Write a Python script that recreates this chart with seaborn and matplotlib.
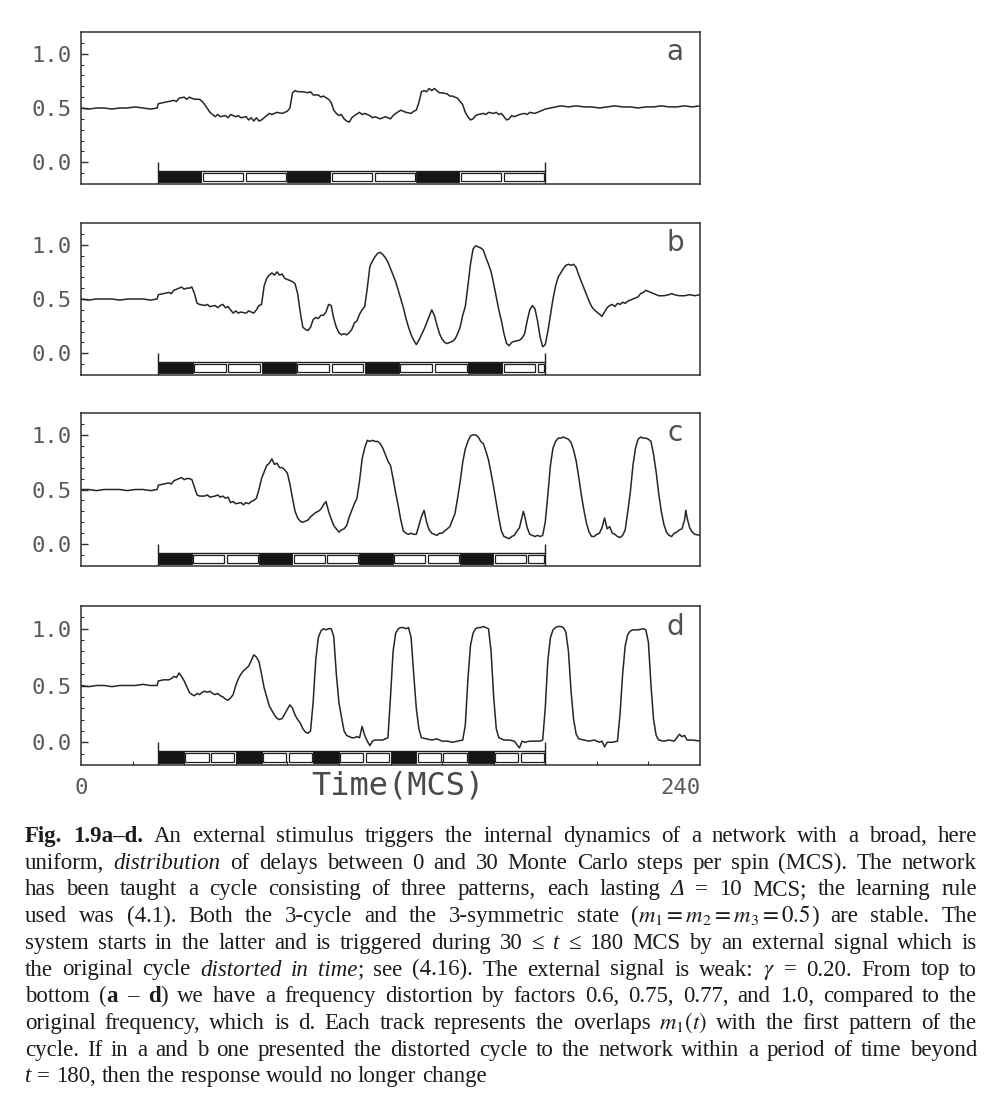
import numpy as np
import pandas as pd
import matplotlib
matplotlib.use("Agg")
import matplotlib.pyplot as plt
import seaborn as sns
from matplotlib.patches import Rectangle
from matplotlib.ticker import FixedLocator

# ---------------- data ----------------
panel_labels = ["a", "b", "c", "d"]
distortion_factors = [0.6, 0.75, 0.77, 1.0]   # frequency distortion of the stimulus
pattern_duration = 10                         # Delta (MCS)
stim_start, stim_end = 30, 180                # stimulus window (MCS)
x_range = [0, 240]
y_ticks = [0.0, 0.5, 1.0]
y_ticklabels = ["0.0", "0.5", "1.0"]
x_ticklabels = ["0", "240"]
x_label = "Time(MCS)"

trace_a = [(0,0.50),(3,0.49),(6,0.50),(9,0.50),(12,0.49),(15,0.50),(18,0.50),(21,0.51),(24,0.50),(27,0.49),(29.5,0.50),
    (30,0.54),(32,0.55),(34,0.56),(36,0.57),(37,0.56),(38,0.59),(40,0.60),(41,0.58),(42,0.60),(44,0.58),(46,0.58),(47,0.56),
    (48,0.53),(50,0.46),(52,0.42),(53,0.44),(54,0.42),(56,0.43),(57,0.41),(58,0.44),(60,0.42),(61,0.43),(62,0.41),(64,0.42),
    (65,0.39),(66,0.41),(67,0.38),(68,0.41),(69,0.38),(70,0.39),(72,0.43),(73,0.45),(74,0.44),(76,0.46),(78,0.45),(80,0.47),
    (81,0.50),(82,0.64),(83,0.66),(84,0.65),(86,0.65),(88,0.64),(89,0.65),(90,0.62),(92,0.62),(93,0.60),(94,0.61),(96,0.58),
    (97,0.55),(98,0.48),(99,0.45),(100,0.43),(101,0.44),(102,0.40),(103,0.38),(104,0.37),(105,0.41),(106,0.43),(108,0.46),
    (109,0.44),(110,0.45),(112,0.43),(113,0.41),(114,0.42),(116,0.40),(117,0.41),(118,0.42),(120,0.40),(121,0.43),(122,0.45),
    (124,0.48),(125,0.47),(126,0.46),(128,0.45),(129,0.47),(130,0.48),(131,0.55),(132,0.65),(133,0.66),(134,0.65),(135,0.68),
    (136,0.66),(137,0.68),(138,0.66),(139,0.64),(140,0.64),(142,0.63),(143,0.61),(144,0.61),(146,0.59),(147,0.56),(148,0.53),
    (149,0.46),(150,0.42),(151,0.39),(152,0.40),(153,0.43),(154,0.44),(156,0.45),(157,0.44),(158,0.46),(160,0.45),(161,0.46),
    (162,0.44),(163,0.45),(164,0.42),(165,0.39),(166,0.40),(167,0.43),(168,0.42),(170,0.44),(172,0.45),(173,0.44),(174,0.46),
    (176,0.45),(178,0.47),(180,0.49),(182,0.50),(184,0.51),(186,0.52),(189,0.51),(192,0.52),(195,0.51),(198,0.51),(201,0.50),
    (204,0.51),(207,0.52),(210,0.51),(213,0.51),(216,0.50),(219,0.51),(222,0.51),(225,0.52),(228,0.51),(231,0.51),(234,0.52),
    (237,0.51),(240,0.52)]

trace_b = [(0,0.50),(3,0.49),(6,0.50),(9,0.50),(12,0.50),(15,0.49),(18,0.50),(21,0.50),(24,0.50),(27,0.49),(29.5,0.50),
    (30,0.54),(32,0.55),(34,0.56),(35,0.55),(36,0.58),(38,0.60),(39,0.61),(40,0.59),(41,0.60),(42,0.60),(43,0.61),(44,0.55),
    (45,0.46),(46,0.45),(48,0.44),(49,0.45),(50,0.43),(52,0.44),(53,0.42),(54,0.44),(55,0.45),(56,0.42),(57,0.43),(58,0.40),
    (59,0.37),(60,0.39),(61,0.37),(62,0.38),(64,0.37),(65,0.39),(66,0.38),(67,0.37),(68,0.40),(69,0.44),(70,0.45),(71,0.62),
    (72,0.69),(73,0.72),(74,0.74),(75,0.72),(76,0.75),(77,0.72),(78,0.73),(79,0.69),(80,0.68),(82,0.66),(83,0.64),(84,0.55),
    (85,0.38),(86,0.24),(87,0.22),(88,0.21),(89,0.24),(90,0.31),(91,0.33),(92,0.32),(93,0.35),(94,0.35),(95,0.38),(96,0.45),
    (97,0.44),(98,0.32),(99,0.24),(100,0.19),(101,0.17),(102,0.18),(103,0.17),(104,0.19),(105,0.22),(106,0.28),(107,0.30),
    (108,0.36),(109,0.40),(110,0.43),(111,0.60),(112,0.80),(113,0.85),(114,0.89),(115,0.92),(116,0.93),(117,0.91),(118,0.88),
    (119,0.84),(120,0.78),(121,0.72),(122,0.66),(123,0.58),(124,0.50),(125,0.42),(126,0.32),(127,0.24),(128,0.17),(129,0.12),
    (130,0.08),(131,0.12),(132,0.17),(133,0.22),(134,0.28),(135,0.34),(136,0.40),(137,0.35),(138,0.26),(139,0.18),(140,0.13),
    (141,0.10),(142,0.09),(143,0.10),(144,0.11),(145,0.13),(146,0.18),(147,0.24),(148,0.35),(149,0.43),(150,0.62),(151,0.82),
    (152,0.96),(153,0.99),(154,0.98),(155,0.97),(156,0.95),(157,0.88),(158,0.82),(159,0.75),(160,0.64),(161,0.52),(162,0.40),
    (163,0.30),(164,0.18),(165,0.09),(166,0.07),(167,0.10),(168,0.11),(170,0.12),(171,0.14),(172,0.18),(173,0.30),(174,0.40),
    (175,0.44),(176,0.41),(177,0.30),(178,0.15),(179,0.06),(180,0.08),(181,0.20),(182,0.35),(183,0.50),(184,0.62),(185,0.70),
    (186,0.74),(187,0.78),(188,0.81),(189,0.82),(190,0.81),(191,0.82),(192,0.79),(193,0.72),(194,0.66),(195,0.60),(196,0.54),
    (197,0.48),(198,0.43),(199,0.40),(200,0.38),(201,0.36),(202,0.34),(203,0.38),(204,0.42),(205,0.44),(206,0.45),(207,0.43),
    (208,0.46),(209,0.45),(210,0.47),(211,0.46),(212,0.48),(214,0.50),(216,0.52),(217,0.55),(218,0.56),(219,0.58),(220,0.57),
    (222,0.55),(223,0.54),(224,0.53),(226,0.53),(228,0.54),(229,0.55),(230,0.54),(232,0.53),(234,0.53),(236,0.54),(238,0.53),
    (240,0.54)]

trace_c = [(0,0.50),(3,0.50),(6,0.49),(9,0.50),(12,0.50),(15,0.50),(18,0.49),(21,0.50),(24,0.50),(27,0.49),(29.5,0.50),
    (30,0.54),(32,0.55),(34,0.56),(35,0.55),(36,0.58),(38,0.60),(39,0.61),(40,0.59),(41,0.60),(42,0.60),(43,0.59),(44,0.52),
    (45,0.45),(46,0.44),(48,0.44),(49,0.45),(50,0.43),(52,0.44),(53,0.45),(54,0.43),(55,0.44),(56,0.42),(57,0.43),(58,0.38),
    (59,0.39),(60,0.37),(62,0.38),(63,0.36),(64,0.38),(65,0.37),(66,0.39),(67,0.40),(68,0.42),(69,0.50),(70,0.60),(71,0.66),
    (72,0.72),(73,0.74),(74,0.78),(75,0.73),(76,0.74),(77,0.70),(78,0.70),(79,0.68),(80,0.65),(81,0.55),(82,0.42),(83,0.30),
    (84,0.24),(85,0.21),(86,0.20),(87,0.21),(88,0.22),(89,0.25),(90,0.27),(91,0.29),(92,0.30),(93,0.32),(94,0.36),(95,0.39),
    (96,0.30),(97,0.23),(98,0.17),(99,0.14),(100,0.11),(101,0.13),(102,0.14),(103,0.17),(104,0.25),(105,0.31),(106,0.37),
    (107,0.42),(108,0.58),(109,0.78),(110,0.88),(111,0.95),(112,0.94),(113,0.95),(114,0.94),(115,0.94),(116,0.92),(117,0.88),
    (118,0.82),(119,0.76),(120,0.72),(121,0.60),(122,0.47),(123,0.35),(124,0.22),(125,0.12),(126,0.10),(127,0.09),(128,0.10),
    (129,0.09),(130,0.09),(131,0.17),(132,0.25),(133,0.31),(134,0.20),(135,0.13),(136,0.10),(137,0.09),(138,0.08),(139,0.10),
    (140,0.10),(141,0.12),(142,0.14),(143,0.16),(144,0.22),(145,0.28),(146,0.42),(147,0.57),(148,0.75),(149,0.87),(150,0.94),
    (151,0.99),(152,1.00),(153,1.00),(154,0.98),(155,0.94),(156,0.92),(157,0.85),(158,0.77),(159,0.65),(160,0.52),(161,0.38),
    (162,0.24),(163,0.12),(164,0.07),(165,0.06),(166,0.05),(167,0.07),(168,0.08),(169,0.12),(170,0.15),(171,0.25),(171.5,0.30),
    (172,0.26),(173,0.15),(174,0.09),(175,0.08),(176,0.07),(177,0.08),(178,0.07),(179,0.08),(180,0.20),(181,0.45),(182,0.72),
    (183,0.88),(184,0.94),(185,0.97),(186,0.97),(187,0.98),(188,0.97),(189,0.96),(190,0.93),(191,0.86),(192,0.76),(193,0.61),
    (194,0.45),(195,0.31),(196,0.19),(197,0.11),(198,0.07),(199,0.07),(200,0.09),(201,0.10),(202,0.15),(203,0.24),(204,0.14),
    (205,0.16),(206,0.10),(207,0.09),(208,0.07),(209,0.06),(210,0.08),(211,0.13),(212,0.30),(213,0.48),(214,0.72),(215,0.88),
    (216,0.96),(217,0.98),(218,0.97),(219,0.97),(220,0.96),(221,0.94),(222,0.82),(223,0.66),(224,0.46),(225,0.30),(226,0.18),
    (227,0.11),(228,0.08),(229,0.07),(230,0.10),(231,0.11),(232,0.13),(233,0.14),(234,0.22),(234.5,0.31),(235,0.24),(236,0.15),
    (237,0.11),(238,0.09),(240,0.08)]

trace_d = [(0,0.50),(3,0.49),(6,0.50),(9,0.50),(12,0.49),(15,0.50),(18,0.50),(21,0.50),(24,0.51),(27,0.50),(29.5,0.50),
    (30,0.54),(32,0.55),(34,0.55),(35,0.56),(36,0.58),(37,0.57),(38,0.61),(39,0.58),(40,0.54),(41,0.49),(42,0.44),(43,0.42),
    (44,0.41),(45,0.43),(46,0.42),(47,0.44),(48,0.45),(49,0.44),(50,0.45),(51,0.43),(52,0.42),(53,0.43),(54,0.41),(55,0.40),
    (56,0.38),(57,0.37),(58,0.39),(59,0.42),(60,0.50),(61,0.56),(62,0.60),(63,0.63),(64,0.65),(65,0.67),(66,0.72),(67,0.77),
    (68,0.75),(69,0.71),(70,0.60),(71,0.48),(72,0.40),(73,0.32),(74,0.28),(75,0.24),(76,0.21),(77,0.20),(78,0.21),(79,0.25),
    (80,0.29),(81,0.33),(82,0.30),(83,0.24),(84,0.20),(85,0.17),(86,0.12),(87,0.09),(88,0.08),(89,0.10),(90,0.35),(91,0.72),
    (92,0.92),(93,0.98),(94,1.00),(95,0.99),(96,1.00),(97,1.00),(98,0.93),(99,0.60),(100,0.35),(101,0.22),(102,0.10),(103,0.06),
    (104,0.05),(105,0.04),(106,0.04),(107,0.05),(108,0.04),(109,0.14),(110,0.06),(111,0.01),(112,-0.03),(113,0.01),(114,0.02),
    (115,0.02),(116,0.02),(117,0.02),(118,0.03),(119,0.04),(120,0.40),(121,0.80),(122,0.96),(123,1.00),(124,1.01),(125,1.01),
    (126,1.00),(127,1.01),(128,0.92),(129,0.60),(130,0.30),(131,0.12),(132,0.04),(134,0.03),(136,0.02),(138,0.03),(140,0.01),
    (142,0.01),(144,0.00),(146,0.01),(148,0.02),(149,0.15),(150,0.55),(151,0.85),(152,0.96),(153,1.00),(154,1.01),(155,1.01),
    (156,1.02),(157,1.01),(158,1.00),(159,0.80),(160,0.40),(161,0.12),(162,0.04),(164,0.02),(166,0.02),(168,0.01),(170,-0.05),
    (171,0.01),(172,0.00),(174,0.01),(176,0.01),(178,0.01),(179,0.02),(180,0.30),(181,0.72),(182,0.92),(183,0.99),(184,1.01),
    (185,1.02),(186,1.02),(187,1.01),(188,0.97),(189,0.80),(190,0.45),(191,0.20),(192,0.07),(193,0.03),(195,0.02),(197,0.01),
    (199,0.02),(201,0.00),(202,0.01),(203,-0.04),(204,0.00),(206,0.00),(208,0.01),(209,0.25),(210,0.60),(211,0.85),(212,0.95),
    (213,0.98),(214,0.99),(216,0.99),(218,1.00),(219,0.99),(220,0.88),(221,0.50),(222,0.20),(223,0.06),(224,0.02),(226,0.01),
    (228,0.02),(230,0.01),(231,0.04),(232,0.07),(233,0.05),(234,0.06),(235,0.02),(237,0.02),(240,0.01)]

traces = [trace_a, trace_b, trace_c, trace_d]

caption_lines = [
    [("Fig. 1.9a–d.", "b"), (" An external stimulus triggers the internal dynamics of a network with a broad, here", "r")],
    [("uniform, ", "r"), ("distribution", "i"), (" of delays between 0 and 30 Monte Carlo steps per spin (MCS). The network", "r")],
    [("has been taught a cycle consisting of three patterns, each lasting ", "r"), ("Δ", "i"), (" = 10 MCS; the learning rule", "r")],
    [("used was (4.1). Both the 3-cycle and the 3-symmetric state (", "r"), ("$m_1 = m_2 = m_3 = 0.5$", "m"), (") are stable. The", "r")],
    [("system starts in the latter and is triggered during 30 ≤ ", "r"), ("t", "i"), (" ≤ 180 MCS by an external signal which is", "r")],
    [("the original cycle ", "r"), ("distorted in time", "i"), ("; see (4.16). The external signal is weak: ", "r"), ("$\\gamma$", "m"), (" = 0.20. From top to", "r")],
    [("bottom (", "r"), ("a", "b"), (" – ", "r"), ("d", "b"), (") we have a frequency distortion by factors 0.6, 0.75, 0.77, and 1.0, compared to the", "r")],
    [("original frequency, which is d. Each track represents the overlaps ", "r"), ("$m_1(t)$", "m"), (" with the first pattern of the", "r")],
    [("cycle. If in a and b one presented the distorted cycle to the network within a period of time beyond", "r")],
    [("t", "i"), (" = 180, then the response would no longer change", "r")],
]

# ---------------- style ----------------
sns.set_theme(style="white")
plt.rcParams["font.family"] = ["DejaVu Sans"]
plt.rcParams["mathtext.fontset"] = "stix"

W, H = 996, 1101
fig = plt.figure(figsize=(W / 100, H / 100), dpi=100)
fig.patch.set_facecolor("white")

# axes boxes in pixels: (left, top, right, bottom)
boxes = [(81, 32, 700, 184), (81, 223, 700, 375), (81, 413, 700, 566), (81, 606, 700, 765)]
line_col = "#262626"
spine_col = "#303030"
tick_lab_col = "#5a5a5a"

axes = []
for i, (l, t, r, b) in enumerate(boxes):
    ax = fig.add_axes([l / W, 1 - b / H, (r - l) / W, (b - t) / H])
    ax.set_facecolor("white")
    df = pd.DataFrame(traces[i], columns=["t", "m"])
    sns.lineplot(data=df, x="t", y="m", ax=ax, color=line_col, lw=1.1,
                 estimator=None, sort=False)
    ax.set_xlim(*x_range)
    ax.set_ylim(-0.2, 1.2)
    ax.set_xlabel("")
    ax.set_ylabel("")
    for s in ax.spines.values():
        s.set_visible(True)
        s.set_color(spine_col)
        s.set_linewidth(1.1)

    # y ticks
    ax.set_yticks(y_ticks)
    ax.set_yticklabels(y_ticklabels)
    ax.yaxis.set_minor_locator(FixedLocator([-0.1, 0.1, 0.2, 0.3, 0.4, 0.6, 0.7, 0.8, 0.9, 1.1]))
    ax.tick_params(axis="y", which="major", direction="in", length=5, width=1.0,
                   left=True, right=False, colors=spine_col, labelcolor=tick_lab_col,
                   labelsize=16, pad=7)
    ax.tick_params(axis="y", which="minor", direction="in", length=2.5, width=0.8,
                   left=True, right=False, colors=spine_col)
    for lab in ax.get_yticklabels():
        lab.set_family("DejaVu Sans Mono")

    # stimulus bar
    period = pattern_duration / distortion_factors[i]
    k = 0
    s0 = stim_start
    while s0 < stim_end - 1e-9:
        e0 = min(s0 + period, stim_end)
        if k % 3 == 0:
            ax.add_patch(Rectangle((s0, -0.185), e0 - s0, 0.105, facecolor="#151515",
                                   edgecolor="#151515", lw=0.6, zorder=3))
        else:
            ax.add_patch(Rectangle((s0 + 0.5, -0.17), max(e0 - s0 - 1.0, 0.3), 0.075,
                                   facecolor="white", edgecolor="#202020", lw=0.9, zorder=3))
        s0 = e0
        k += 1
    ax.plot([stim_start, stim_end], [-0.08, -0.08], color="#202020", lw=1.0, zorder=3)
    ax.vlines([stim_start, stim_end], -0.2, 0.0, color="#202020", lw=1.0, zorder=3)

    ax.text(0.96, 0.87, panel_labels[i], transform=ax.transAxes, fontsize=20,
            ha="center", va="center", color="#505050", family="DejaVu Sans")

    if i < 3:
        ax.set_xticks([])
    else:
        ax.set_xticks(x_range)
        ax.set_xticklabels(x_ticklabels)
        ax.xaxis.set_minor_locator(FixedLocator(list(range(20, 240, 20))))
        ax.tick_params(axis="x", which="major", length=0, labelsize=16, pad=9,
                       labelcolor=tick_lab_col)
        ax.tick_params(axis="x", which="minor", direction="in", length=3, width=0.8,
                       bottom=True, colors=spine_col)
        labs = ax.get_xticklabels()
        for lab in labs:
            lab.set_family("DejaVu Sans Mono")
        labs[-1].set_horizontalalignment("right")
        ax.text(0.512, -0.135, x_label, transform=ax.transAxes, fontsize=23,
                ha="center", va="center", color="#4a4a4a", family="DejaVu Sans Mono")
    axes.append(ax)

# ---------------- caption (justified) ----------------
renderer = fig.canvas.get_renderer()
serif = ["Liberation Serif", "DejaVu Serif"]
cap_fs = 16.5
cap_col = "#1c1c1c"
style_kw = {
    "r": dict(family=serif),
    "b": dict(family=serif, weight="bold"),
    "i": dict(family=serif, style="italic"),
    "m": dict(family=serif),
}

def measure(txt, st):
    tt = fig.text(0, 0, txt, fontsize=cap_fs, **style_kw[st])
    w = tt.get_window_extent(renderer).width
    tt.remove()
    return w

sp_w = measure("a a", "r") - measure("aa", "r")
x_left, x_right = 25, 977
base0, lead = 842, 26.7

for li, pieces in enumerate(caption_lines):
    groups = [[]]
    for txt, st in pieces:
        if st == "m":
            groups[-1].append((txt, st))
            continue
        parts = txt.split(" ")
        for kk, p in enumerate(parts):
            if kk > 0:
                groups.append([])
            if p:
                groups[-1].append((p, st))
    groups = [g for g in groups if g]
    gw = [[measure(txt, st) for txt, st in g] for g in groups]
    tot = sum(sum(w) for w in gw)
    last = li == len(caption_lines) - 1
    gap = sp_w if last else (x_right - x_left - tot) / (len(groups) - 1)
    x = x_left
    y = base0 + li * lead
    for g, ws in zip(groups, gw):
        for (txt, st), w in zip(g, ws):
            fig.text(x / W, 1 - y / H, txt, fontsize=cap_fs, color=cap_col,
                     ha="left", va="baseline", **style_kw[st])
            x += w
        x += gap

fig.savefig("out.png", dpi=100, facecolor=fig.get_facecolor())
